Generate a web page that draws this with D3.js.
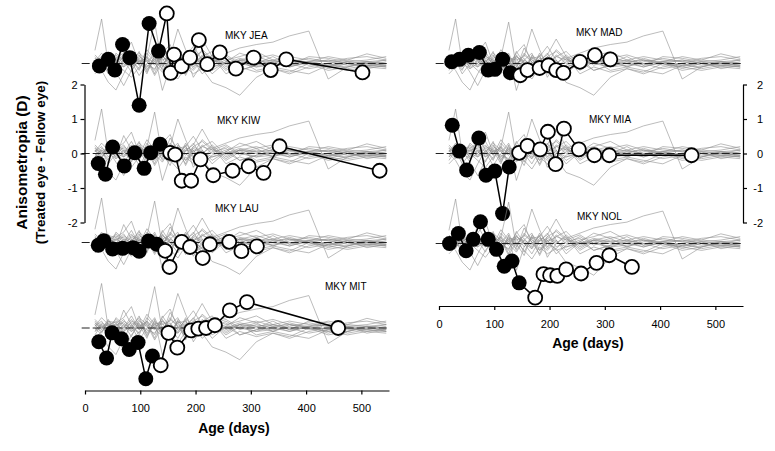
<!DOCTYPE html>
<html>
<head>
<meta charset="utf-8">
<script src="https://cdn.jsdelivr.net/npm/d3@7"></script>
<style>
  body { margin: 0; background: #fff; }
  svg { display: block; font-family: 'Liberation Sans', Arial, sans-serif; }
</style>
</head>
<body>
<div id="chart"></div>
<script>
// Anisometropia vs age, one panel per treated monkey, normal monkeys in grey

// normal (control) monkeys, shared age grid
const controlAges = [18, 30, 42, 56, 70, 84, 98, 112, 126, 140, 154, 168, 182, 196, 212, 230, 255, 280, 310, 340, 370, 405, 440, 475, 510, 545];
const controlVals = [
  [0.38, 1.29, 0.00, 0.10, -0.05, 0.15, 0.05, -0.10, 0.10, 0.20, 0.00, -0.15, 0.10, 0.05, 0.20, 0.10, 0.00, 0.15, 0.05, 0.10, 0.00, 0.05, -0.05, 0.00, 0.05, 0.00],
  [0.10, -0.15, 0.20, 0.05, 0.25, -0.10, 0.05, 0.18, 1.20, -0.10, 0.30, 0.05, -0.20, 0.15, 0.00, 0.25, -0.10, 0.10, 0.20, 0.05, -0.10, 0.05, 0.10, 0.00, -0.05, 0.05],
  [-0.10, 0.05, -0.20, 0.30, 0.10, 0.00, 0.35, -0.25, 0.15, 0.10, 0.20, 1.00, 0.40, -0.10, 0.25, 0.00, 0.20, -0.05, 0.10, 0.00, 0.15, 0.00, -0.10, 0.05, 0.00, -0.05],
  [0.05, 0.20, -0.10, 0.15, 0.30, 0.62, 0.00, 0.20, -0.30, 0.25, -0.10, 0.15, 0.20, 0.50, 0.10, -0.20, 0.05, 0.00, -0.10, 0.05, 0.10, -0.05, 0.00, 0.10, 0.05, 0.10],
  [0.20, 0.00, 0.15, -0.10, 0.52, 0.10, -0.20, 0.30, 0.05, -0.15, 0.45, 0.10, -0.05, 0.20, 0.35, 0.10, 0.25, 0.00, 0.15, -0.10, 0.05, 0.15, 0.05, -0.05, 0.00, 0.10],
  [-0.20, 0.10, 0.00, -0.15, 0.10, -0.25, 0.20, 0.05, -0.20, 0.35, 0.00, -0.30, 0.10, 0.25, 0.71, 0.20, -0.15, 0.10, 0.00, 0.20, -0.05, 0.00, 0.10, 0.00, -0.10, 0.00],
  [0.00, -0.20, -0.54, -0.77, -0.30, 0.10, -0.15, 0.20, 0.00, -0.25, 0.10, 0.30, -0.20, 0.00, -0.15, 0.15, -0.20, 0.05, -0.10, -0.05, 0.00, -0.15, -0.05, -0.10, 0.00, -0.05],
  [0.15, 0.00, 0.10, -0.25, -0.64, -0.20, 0.10, -0.30, 0.25, -0.78, -0.10, 0.20, -0.35, 0.10, -0.20, -0.10, 0.05, -0.20, -0.05, 0.00, -0.10, 0.05, -0.15, 0.00, -0.05, -0.10],
  [-0.05, 0.10, -0.30, 0.00, -0.20, -0.40, -0.10, 0.10, -0.35, 0.05, -0.20, -0.45, -0.10, -0.30, -0.15, -0.55, -0.70, -0.92, -0.40, -0.15, -0.25, 0.00, -0.10, -0.20, -0.10, -0.15],
  [0.10, -0.10, 0.05, 0.20, 0.00, 0.25, -0.05, 0.40, 0.10, 0.00, 0.15, -0.15, 0.30, 0.00, 0.40, 0.15, 0.30, 0.45, 0.55, 0.62, 0.80, 0.94, -0.45, -0.10, 0.05, 0.00],
  [0.25, 0.05, -0.15, 0.10, 0.15, -0.05, 0.25, -0.15, 0.05, 0.15, -0.25, 0.20, 0.00, -0.20, 0.10, -0.30, 0.05, 0.30, 0.15, 0.25, 0.10, 0.05, 0.20, 0.10, 0.28, 0.15],
  [-0.30, -0.10, 0.15, -0.05, 0.20, 0.05, -0.35, 0.00, 0.30, -0.20, 0.10, -0.05, 0.25, -0.40, 0.00, 0.20, -0.30, -0.10, -0.25, -0.15, -0.30, -0.10, 0.00, -0.15, -0.05, -0.10],
  [0.05, 0.30, 0.10, 0.00, -0.10, 0.20, 0.10, -0.05, -0.15, 0.20, 0.05, -0.10, 0.15, 0.10, -0.30, -0.05, 0.10, 0.20, 0.35, 0.10, 0.20, 0.10, 0.05, 0.15, 0.20, 0.10],
  [null, 0.00, 0.20, 0.15, -0.10, 0.05, 0.30, 0.10, -0.05, 0.30, 0.55, 0.00, 0.20, -0.15, 0.20, 0.35, -0.05, 0.10, -0.20, -0.10, -0.20, -0.30, -0.05, 0.05, -0.15, -0.05],
  [-0.10, 0.15, 0.05, 0.25, 0.05, -0.10, 0.15, -0.20, 0.20, 0.00, -0.35, 0.25, 0.05, 0.30, -0.10, 0.05, 0.15, -0.20, -0.05, 0.10, -0.05, 0.20, 0.15, 0.05, 0.10, 0.20],
  [0.15, -0.05, 0.25, -0.15, 0.00, 0.35, -0.05, 0.15, 0.00, -0.05, 0.25, 0.05, -0.30, 0.20, 0.05, -0.10, 0.00, 0.10, 0.05, -0.10, 0.10, 0.00, -0.20, -0.10, 0.05, -0.10]
];

// treated monkeys: first N points are during treatment (filled symbols)
const jeaAges = [26, 42, 54, 68, 81, 98, 116, 133, 148, 155, 161, 175, 190, 206, 221, 244, 273, 305, 336, 364, 502];
const jeaVals = [-0.07, 0.12, -0.19, 0.55, 0.17, -1.21, 1.16, 0.36, 1.45, -0.27, 0.26, -0.08, 0.17, 0.68, -0.02, 0.32, -0.15, 0.17, -0.19, 0.12, -0.26];
const jeaTreated = 8;

const kiwAges = [24, 37, 50, 71, 90, 107, 119, 136, 154, 163, 175, 192, 209, 232, 267, 296, 323, 352, 533];
const kiwVals = [-0.29, -0.60, 0.19, -0.36, 0.02, -0.43, 0.02, 0.27, 0.02, -0.03, -0.79, -0.79, -0.17, -0.63, -0.50, -0.37, -0.56, 0.21, -0.50];
const kiwTreated = 8;

const lauAges = [24, 34, 50, 68, 87, 98, 115, 130, 145, 153, 175, 190, 213, 226, 261, 283, 311];
const lauVals = [-0.08, 0.05, -0.19, -0.17, -0.15, -0.25, 0.04, -0.05, -0.24, -0.71, 0.02, -0.13, -0.45, -0.05, 0.02, -0.25, -0.11];
const lauTreated = 8;

const mitAges = [25, 39, 49, 66, 80, 96, 110, 122, 137, 151, 167, 192, 205, 219, 235, 262, 293, 458];
const mitVals = [-0.40, -0.87, -0.14, -0.31, -0.62, -0.42, -1.47, -0.81, -1.08, -0.14, -0.57, -0.07, -0.02, 0.00, 0.08, 0.51, 0.75, 0.00];
const mitTreated = 8;

const madAges = [23, 37, 53, 73, 89, 101, 115, 129, 147, 160, 182, 198, 212, 225, 255, 282, 310];
const madVals = [0.05, 0.12, 0.24, 0.32, -0.19, -0.17, 0.12, -0.27, -0.34, -0.19, -0.13, -0.05, -0.19, -0.27, 0.05, 0.24, 0.12];
const madTreated = 8;

const miaAges = [24, 37, 50, 72, 85, 101, 115, 127, 145, 160, 183, 197, 211, 226, 253, 281, 308, 457];
const miaVals = [0.82, 0.07, -0.48, 0.45, -0.63, -0.51, -1.74, -0.39, 0.02, 0.22, 0.12, 0.63, -0.31, 0.72, 0.12, -0.05, -0.05, -0.05];
const miaTreated = 8;

const nolAges = [19, 35, 49, 62, 75, 89, 104, 118, 132, 145, 174, 189, 201, 214, 230, 257, 285, 308, 349];
const nolVals = [0.00, 0.29, -0.21, 0.12, 0.63, 0.12, -0.17, -0.66, -0.51, -1.14, -1.57, -0.89, -0.92, -0.94, -0.75, -0.87, -0.56, -0.34, -0.68];
const nolTreated = 10;

const ageTicks = [0, 100, 200, 300, 400, 500];
const diopterTicks = [-2, -1, 0, 1, 2];

// layout
const width = 775, height = 451;
const panels = [
  { name: 'MKY JEA', ages: jeaAges, vals: jeaVals, treated: jeaTreated, col: 0, zeroY: 63.5, lx: 225, ly: 38.5 },
  { name: 'MKY KIW', ages: kiwAges, vals: kiwVals, treated: kiwTreated, col: 0, zeroY: 153.5, lx: 217, ly: 123.5 },
  { name: 'MKY LAU', ages: lauAges, vals: lauVals, treated: lauTreated, col: 0, zeroY: 242.5, lx: 215, ly: 212 },
  { name: 'MKY MIT', ages: mitAges, vals: mitVals, treated: mitTreated, col: 0, zeroY: 328, lx: 325, ly: 290 },
  { name: 'MKY MAD', ages: madAges, vals: madVals, treated: madTreated, col: 1, zeroY: 63.5, lx: 576, ly: 36 },
  { name: 'MKY MIA', ages: miaAges, vals: miaVals, treated: miaTreated, col: 1, zeroY: 153.5, lx: 589, ly: 123 },
  { name: 'MKY NOL', ages: nolAges, vals: nolVals, treated: nolTreated, col: 1, zeroY: 243.5, lx: 577, ly: 220 }
];

const xScales = [
  d3.scaleLinear().domain([0, 550]).range([85, 389]),
  d3.scaleLinear().domain([0, 550]).range([439, 743])
];
const pxPerD = 34.5;

function yScaleFor(zeroY) {
  return d3.scaleLinear().domain([-2, 2]).range([zeroY + 2 * pxPerD, zeroY - 2 * pxPerD]);
}

const svg = d3.select('#chart')
  .append('svg')
  .attr('width', width)
  .attr('height', height);

svg.append('rect').attr('width', width).attr('height', height).attr('fill', '#fff');

function drawPanel(p) {
  const x = xScales[p.col];
  const y = yScaleFor(p.zeroY);
  const g = svg.append('g');

  const line = d3.line()
    .defined(d => d[1] != null)
    .x(d => x(d[0]))
    .y(d => y(d[1]));

  // normal monkeys
  g.append('g')
    .selectAll('path')
    .data(controlVals)
    .enter().append('path')
    .attr('d', vals => line(controlAges.map((a, i) => [a, vals[i]])))
    .attr('fill', 'none')
    .attr('stroke', '#8e8e8e')
    .attr('stroke-width', 0.6);

  // zero reference
  g.append('line')
    .attr('x1', x(-6)).attr('x2', x(550))
    .attr('y1', y(0)).attr('y2', y(0))
    .attr('stroke', '#222')
    .attr('stroke-width', 1)
    .attr('stroke-dasharray', '8,3');

  const pts = p.ages.map((a, i) => ({ age: a, val: p.vals[i], treated: i < p.treated }));

  g.append('path')
    .attr('d', line(pts.map(d => [d.age, d.val])))
    .attr('fill', 'none')
    .attr('stroke', '#000')
    .attr('stroke-width', 1.5);

  g.append('g')
    .selectAll('circle')
    .data(pts)
    .enter().append('circle')
    .attr('cx', d => x(d.age))
    .attr('cy', d => y(d.val))
    .attr('r', d => d.treated ? 7.5 : 7)
    .attr('fill', d => d.treated ? '#000' : '#fff')
    .attr('stroke', '#000')
    .attr('stroke-width', d => d.treated ? 0 : 1.8);

  g.append('text')
    .attr('x', p.lx)
    .attr('y', p.ly)
    .attr('font-size', '10px')
    .attr('fill', '#000')
    .text(p.name);
}

panels.forEach(drawPanel);

// x axes
function styleAxis(sel) {
  sel.select('.domain').attr('stroke', '#000').attr('stroke-width', 1.2);
  sel.selectAll('.tick line').attr('stroke', '#000').attr('stroke-width', 1.2);
  sel.selectAll('.tick text').attr('font-size', '11px').attr('fill', '#000')
    .attr('font-family', "'Liberation Sans', Arial, sans-serif");
}

const xAxisY = [390.5, 306];
xScales.forEach((x, i) => {
  const ax = svg.append('g')
    .attr('transform', `translate(0,${xAxisY[i]})`)
    .call(d3.axisBottom(x).tickValues(ageTicks).tickSize(4).tickSizeOuter(0).tickPadding(10));
  styleAxis(ax);

  svg.append('text')
    .attr('x', (x(0) + x(550)) / 2 - 3)
    .attr('y', xAxisY[i] + 42)
    .attr('text-anchor', 'middle')
    .attr('font-size', '14px')
    .attr('font-weight', 'bold')
    .text('Age (days)');
});

// diopter scale bars
const yLeft = yScaleFor(153.5);
const leftAxis = svg.append('g')
  .attr('transform', 'translate(84.5,0)')
  .call(d3.axisLeft(yLeft).tickValues(diopterTicks).tickFormat(d => String(d)).tickSize(4).tickSizeOuter(0).tickPadding(3));
styleAxis(leftAxis);

const rightAxis = svg.append('g')
  .attr('transform', 'translate(743,0)')
  .call(d3.axisRight(yLeft).tickValues(diopterTicks).tickFormat(d => String(d)).tickSize(4).tickSizeOuter(0));
styleAxis(rightAxis);
rightAxis.selectAll('.tick text').attr('x', 20).attr('text-anchor', 'end');

// y title
svg.append('text')
  .attr('transform', 'translate(26.5,162.5) rotate(-90)')
  .attr('text-anchor', 'middle')
  .attr('font-size', '15.5px')
  .attr('font-weight', 'bold')
  .text('Anisometropia (D)');

svg.append('text')
  .attr('transform', 'translate(44.5,162.5) rotate(-90)')
  .attr('text-anchor', 'middle')
  .attr('font-size', '13.5px')
  .attr('font-weight', 'bold')
  .text('(Treated eye - Fellow eye)');
</script>
</body>
</html>
